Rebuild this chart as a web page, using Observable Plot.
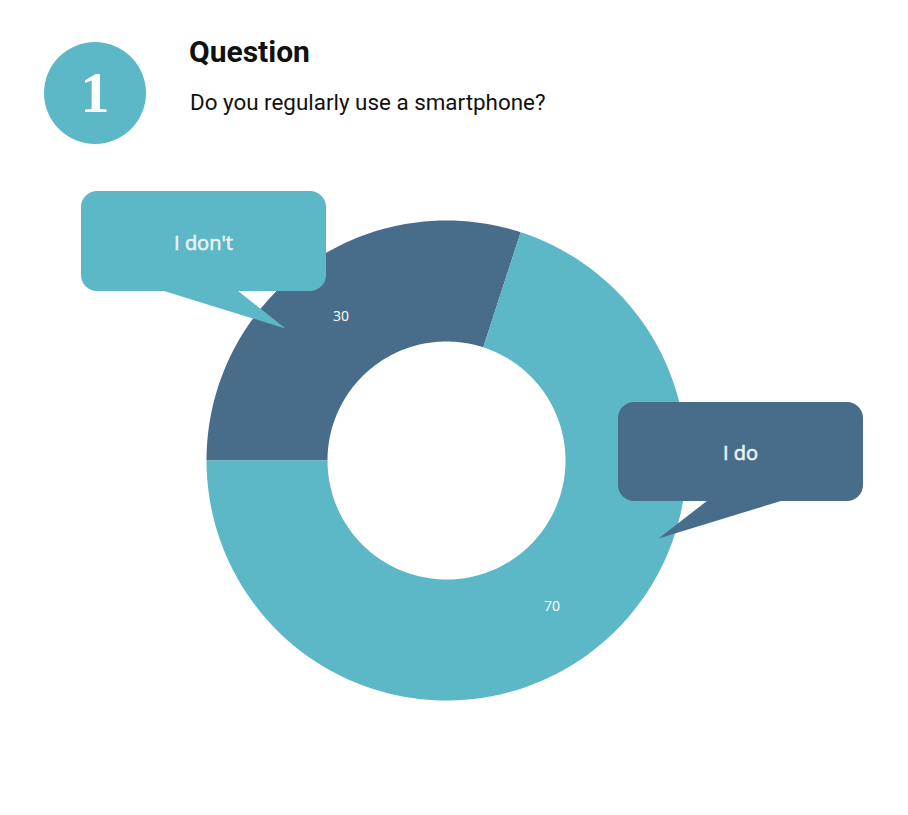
<!DOCTYPE html>
<html>
<head>
<meta charset="utf-8">
<script src="https://cdn.jsdelivr.net/npm/d3@7"></script>
<script src="https://cdn.jsdelivr.net/npm/@observablehq/plot@0.6"></script>
<style>
  body { margin: 0; background: #fff; }
  #header { position: relative; height: 170px; width: 908px; }
  #badge {
    position: absolute; left: 44px; top: 42px; width: 102px; height: 102px;
    border-radius: 50%; background: #5cb7c7;
  }
  #badge span {
    position: absolute; left: 0; width: 102px; top: 18px; text-align: center;
    color: #fff; font-family: "Liberation Serif", "DejaVu Serif", serif;
    font-weight: bold; font-size: 58px; line-height: 66px;
  }
  #title {
    position: absolute; left: 189px; top: 34px; font-family: Roboto, sans-serif;
    font-weight: bold; font-size: 30px; line-height: 36px; color: #111;
  }
  #subtitle {
    position: absolute; left: 190px; top: 89px; font-family: Roboto, sans-serif;
    font-size: 22.4px; line-height: 26px; color: #111;
  }
</style>
</head>
<body>
<div id="header">
  <div id="badge"><span>1</span></div>
  <div id="title">Question</div>
  <div id="subtitle">Do you regularly use a smartphone?</div>
</div>
<div id="chart"></div>
<script>
// answers and their counts
const categories = ["I don't", "I do"];
const values = [30, 70];
const sliceColors = ["#486d8b", "#5cb7c7"];
const boxColors = ["#5cb7c7", "#486d8b"];

// layout (svg pixels)
const W = 908, H = 645;
const cx = 446, cy = 290, outerR = 240, innerR = 119;
const callouts = {
  "I don't": {x1: 81, x2: 326, y1: 21, y2: 121, tx: 203, ty: 73,
              tail: [[162, 120], [237, 120], [285, 158]]},
  "I do": {x1: 618, x2: 863, y1: 232, y2: 331, tx: 740, ty: 283,
           tail: [[707, 330], [782, 330], [658, 368]]}
};

const arcs = d3.pie().sort(null)
  .startAngle(-Math.PI / 2).endAngle(1.5 * Math.PI)(values);

const pt = (r, a) => [cx + r * Math.sin(a), cy - r * Math.cos(a)];

// ring sector outlines
const ring = [];
arcs.forEach((a, i) => {
  const n = 120;
  for (let k = 0; k <= n; k++) {
    const [x, y] = pt(outerR, a.startAngle + (a.endAngle - a.startAngle) * k / n);
    ring.push({label: categories[i], x, y});
  }
  for (let k = n; k >= 0; k--) {
    const [x, y] = pt(innerR, a.startAngle + (a.endAngle - a.startAngle) * k / n);
    ring.push({label: categories[i], x, y});
  }
});

const valueLabels = arcs.map((a, i) => {
  const [x, y] = pt((outerR + innerR) / 2, (a.startAngle + a.endAngle) / 2);
  return {label: categories[i], value: values[i], x, y};
});

const boxes = categories.map(c => ({label: c, ...callouts[c]}));
const tails = categories.flatMap(c => callouts[c].tail.map(([x, y]) => ({label: c, x, y})));

const boxColor = d => boxColors[categories.indexOf(d.label)];

const chart = Plot.plot({
  width: W,
  height: H,
  margin: 0,
  x: {domain: [0, W], range: [0, W], axis: null},
  y: {domain: [0, H], range: [0, H], axis: null},
  color: {domain: categories, range: sliceColors},
  style: {fontFamily: "'Open Sans', sans-serif", background: "transparent"},
  marks: [
    Plot.line(ring, {x: "x", y: "y", z: "label", fill: "label", stroke: "none"}),
    Plot.text(valueLabels, {x: "x", y: "y", dy: 1, text: "value", fill: "white", fontSize: 14}),
    Plot.line(tails, {x: "x", y: "y", z: "label", fill: d => boxColor(d), stroke: "none"}),
    Plot.rect(boxes, {x1: "x1", x2: "x2", y1: "y1", y2: "y2", rx: 16, fill: d => boxColor(d)}),
    Plot.text(boxes, {x: "tx", y: "ty", text: "label", fill: "#f0f2f4", stroke: "#f0f2f4",
                      strokeWidth: 0.6, fontSize: 20})
  ]
});

document.getElementById("chart").append(chart);
</script>
</body>
</html>
